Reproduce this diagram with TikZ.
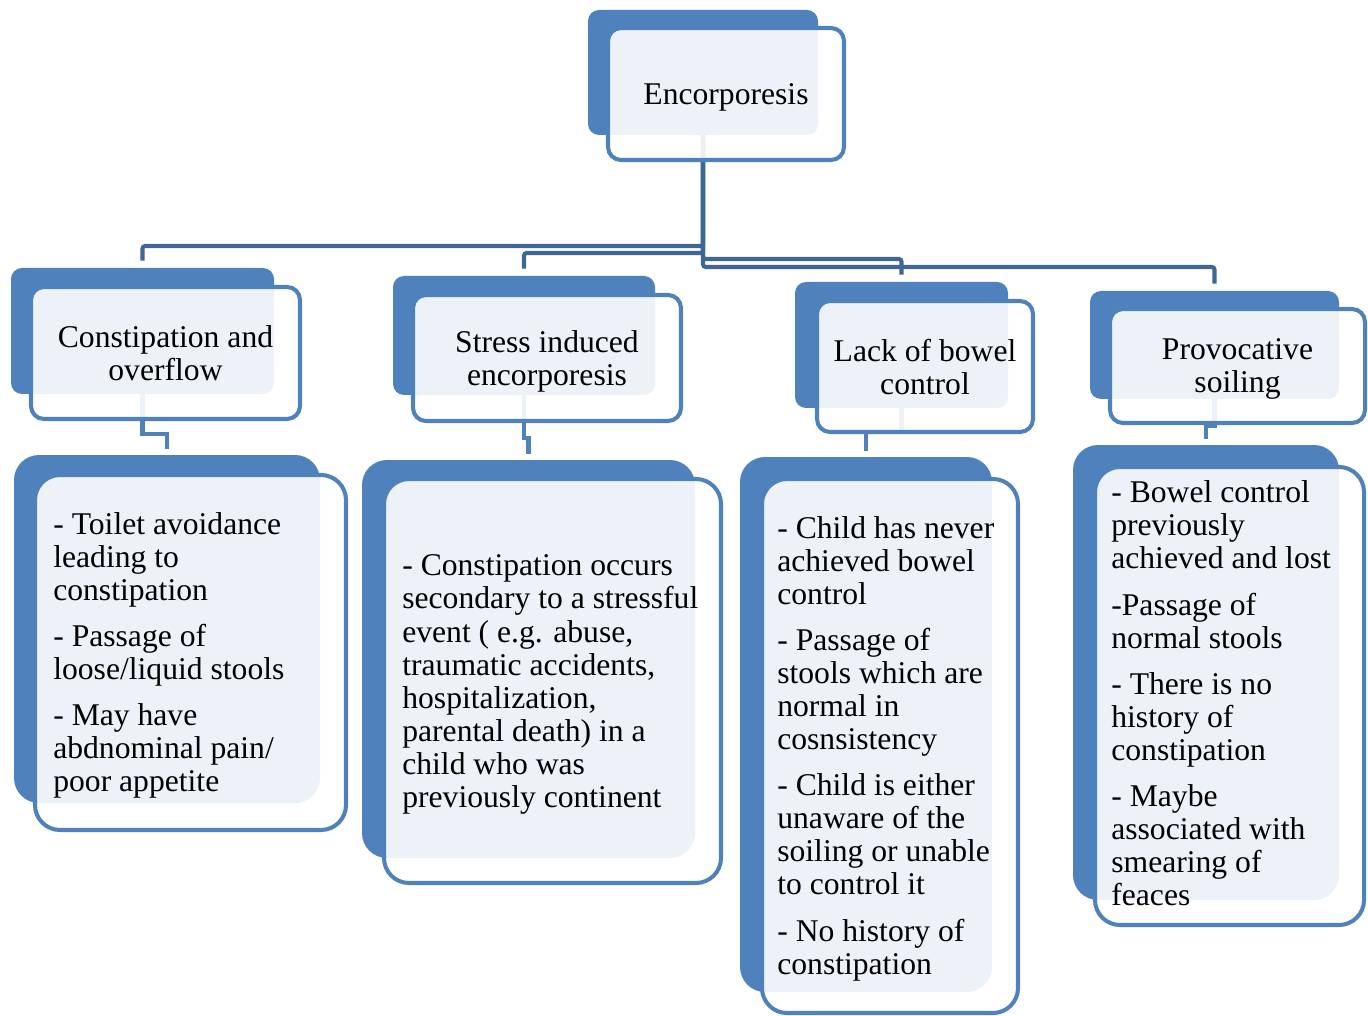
\documentclass[tikz,border=0pt]{standalone}
\usepackage{fontspec}
\setmainfont{Liberation Serif}
\usetikzlibrary{positioning}
\definecolor{boxblue}{RGB}{79,129,189}
\definecolor{linkblue}{RGB}{64,102,150}
\tikzset{
  wh/.style 2 args={minimum width=#1*0.02cm, minimum height=#2*0.02cm},
  backbox/.style={fill=boxblue, rounded corners=0.22cm, inner sep=0pt},
  frontbox/.style={draw=boxblue, line width=2.3pt, fill=white, fill opacity=0.9, text opacity=1,
    rounded corners=0.26cm, inner sep=0pt, align=center, text depth=0pt,
    font=\fontsize{18pt}{18.8pt}\selectfont},
  itemback/.style={backbox, rounded corners=0.5cm},
  itemfront/.style={frontbox, rounded corners=0.5cm},
  itemtext/.style={inner sep=0pt, align=left, font=\fontsize{18pt}{18.8pt}\selectfont},
  link/.style={draw=linkblue, line width=2.3pt, rounded corners=1.5pt, shorten >=0.14cm},
  sublink/.style={draw=boxblue, line width=2.6pt, shorten >=0.12cm}
}
\begin{document}
\begin{tikzpicture}[x=0.02cm,y=-0.02cm]
    \useasboundingbox (0,0) rectangle (1368,1016);

    % Back boxes
    \node[backbox, wh={230}{125}] (b0) at (703,72.5) {};
    \node[backbox, wh={263}{126}] (b1) at (142.5,331) {};
    \node[backbox, wh={262}{119}] (b2) at (524,335.5) {};
    \node[backbox, wh={213}{126}] (b3) at (901.5,345) {};
    \node[backbox, wh={249}{108}] (b4) at (1214.5,345) {};
    \node[itemback, wh={306}{348}] (c1) at (167,629) {};
    \node[itemback, wh={333}{398}] (c2) at (528.5,659) {};
    \node[itemback, wh={252}{535}] (c3) at (866,724.5) {};
    \node[itemback, wh={266}{455}] (c4) at (1206,672.5) {};

    % Connectors
    \draw[link] (b0.south) -- (b0.south |- 0,246) -| (b1.north);
    \draw[link] (b0.south) -- (b0.south |- 0,253) -| (b2.north);
    \draw[link] (b0.south) -- (b0.south |- 0,259) -| (b3.north);
    \draw[link] (b0.south) -- (b0.south |- 0,267) -| (b4.north);
    \draw[sublink] (b1.south) -- (b1.south |- 0,434) -| (c1.north);
    \draw[sublink] (b2.south) -- (b2.south |- 0,438) -| (c2.north);
    \draw[sublink] (b3.south) -- (b3.south |- 0,432) -| (c3.north);
    \draw[sublink] (b4.south) -- (b4.south |- 0,426) -| (c4.north);

    % Front boxes
    \node[frontbox, wh={236}{132}] (f0) at (726,94) {Encorporesis};
    \node[frontbox, wh={269}{132}] (f1) at (165.5,353) {Constipation and\\overflow};
    \node[frontbox, wh={268}{126}] (f2) at (547,358) {Stress induced\\encorporesis};
    \node[frontbox, wh={216}{131}] (f3) at (925,366.5) {Lack of bowel\\control};
    \node[frontbox, wh={255}{114}] (f4) at (1237.5,366) {Provocative\\soiling};
    \node[itemfront, wh={311}{355}] (g1) at (190.5,652.5) {};
    \node[itemfront, wh={337}{404}] (g2) at (552.5,681) {};
    \node[itemfront, wh={256}{534}] (g3) at (890,746) {};
    \node[itemfront, wh={269}{458}] (g4) at (1229.5,696) {};

    % Item texts
    \node[itemtext, right=0.4cm of g1.west, yshift=-0.06cm] (t1) {- Toilet avoidance\\leading to\\constipation\\[7.5pt]- Passage of\\loose/liquid stools\\[7.5pt]- May have\\abdnominal pain/\\poor appetite};
    \node[itemtext, right=0.4cm of g2.west, yshift=-0.07cm] (t2) {- Constipation occurs\\secondary to a stressful\\event ( e.g. abuse,\\traumatic accidents,\\hospitalization,\\parental death) in a\\child who was\\previously continent};
    \node[itemtext, right=0.34cm of g3.west, yshift=-0.05cm] (t3) {- Child has never\\achieved bowel\\control\\[7.5pt]- Passage of\\stools which are\\normal in\\cosnsistency\\[7.5pt]- Child is either\\unaware of the\\soiling or unable\\to control it\\[7.5pt]- No history of\\constipation};
    \node[itemtext, right=0.36cm of g4.west, yshift=0.05cm] (t4) {- Bowel control\\previously\\achieved and lost\\[7.5pt]-Passage of\\normal stools\\[7.5pt]- There is no\\history of\\constipation\\[7.5pt]- Maybe\\associated with\\smearing of\\feaces};

\end{tikzpicture}
\end{document}
